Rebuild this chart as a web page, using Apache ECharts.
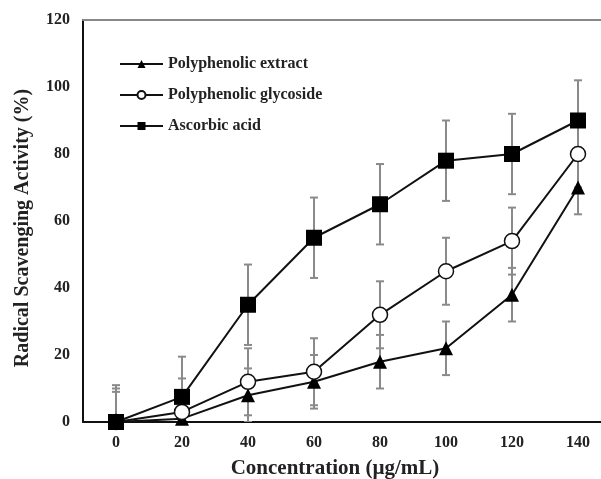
<!DOCTYPE html>
<html>
<head>
<meta charset="utf-8">
<script src="https://cdn.jsdelivr.net/npm/echarts@6/dist/echarts.min.js"></script>
<style>
  html, body { margin: 0; padding: 0; background: #fff; }
  #chart { width: 601px; height: 479px; }
</style>
</head>
<body>
<div id="chart"></div>
<script>
// concentrations (ug/mL)
const concentrations = ["0", "20", "40", "60", "80", "100", "120", "140"];

// mean scavenging activity (%) and error (+/-)
const extractMean = [0, 1, 8, 12, 18, 22, 38, 70];
const extractErr = [9, 8, 8, 8, 8, 8, 8, 8];
const glycosideMean = [0, 3, 12, 15, 32, 45, 54, 80];
const glycosideErr = [10, 10, 10, 10, 10, 10, 10, 10];
const ascorbicMean = [0, 7.5, 35, 55, 65, 78, 80, 90];
const ascorbicErr = [11, 12, 12, 12, 12, 12, 12, 12];

const fontFamily = "'Liberation Serif', 'Times New Roman', serif";
const textColor = "#222";

function errorData(mean, err) {
  return mean.map((m, i) => [i, m - err[i], m + err[i]]);
}

function renderErrorBar(params, api) {
  const x = api.value(0);
  const lo = api.coord([x, api.value(1)]);
  const hi = api.coord([x, api.value(2)]);
  const cap = 4;
  const style = { stroke: "#8a8a8a", lineWidth: 2 };
  return {
    type: "group",
    children: [
      { type: "line", shape: { x1: hi[0], y1: hi[1], x2: lo[0], y2: lo[1] }, style },
      { type: "line", shape: { x1: hi[0] - cap, y1: hi[1], x2: hi[0] + cap, y2: hi[1] }, style },
      { type: "line", shape: { x1: lo[0] - cap, y1: lo[1], x2: lo[0] + cap, y2: lo[1] }, style },
    ],
  };
}

function errorSeries(mean, err) {
  return {
    type: "custom",
    renderItem: renderErrorBar,
    data: errorData(mean, err),
    clip: true,
    silent: true,
    z: 1,
    encode: { x: 0, y: [1, 2] },
  };
}

const chart = echarts.init(document.getElementById("chart"));

chart.setOption({
  animation: false,
  textStyle: { fontFamily },
  legend: {
    orient: "vertical",
    left: 114,
    top: 51,
    itemWidth: 43,
    itemHeight: 10,
    itemGap: 15,
    textStyle: { fontFamily, fontWeight: "bold", fontSize: 16, color: textColor },
    data: ["Polyphenolic extract", "Polyphenolic glycoside", "Ascorbic acid"],
  },
  grid: {
    left: 83,
    width: 528,
    top: 20,
    height: 402,
    outerBoundsMode: "none",
    containLabel: false,
  },
  xAxis: [
    {
      type: "category",
      data: concentrations,
      boundaryGap: true,
      name: "Concentration (\u00b5g/mL)",
      nameLocation: "middle",
      nameGap: 36,
      nameTextStyle: { fontFamily, fontWeight: "bold", fontSize: 21, color: textColor, padding: [0, 24, 0, 0] },
      axisLine: { lineStyle: { color: "#111", width: 2 } },
      axisTick: { inside: true, length: 4, lineStyle: { color: "#111", width: 2 } },
      axisLabel: { fontFamily, fontWeight: "bold", fontSize: 16, color: textColor, margin: 13 },
      splitLine: { show: false },
    },
    {
      type: "category",
      data: concentrations,
      position: "top",
      axisLine: { lineStyle: { color: "#888", width: 2 } },
      axisTick: { show: false },
      axisLabel: { show: false },
    },
  ],
  yAxis: {
    type: "value",
    min: 0,
    max: 120,
    interval: 20,
    name: "Radical Scavenging Activity (%)",
    nameLocation: "middle",
    nameGap: 50,
    nameTextStyle: { fontFamily, fontWeight: "bold", fontSize: 20, color: textColor, padding: [0, 14, 0, 0] },
    axisLine: { show: true, lineStyle: { color: "#111", width: 2 } },
    axisTick: { show: false },
    axisLabel: { fontFamily, fontWeight: "bold", fontSize: 16, color: textColor, margin: 13 },
    splitLine: { show: false },
  },
  series: [
    errorSeries(extractMean, extractErr),
    errorSeries(glycosideMean, glycosideErr),
    errorSeries(ascorbicMean, ascorbicErr),
    {
      name: "Polyphenolic extract",
      type: "line",
      data: extractMean,
      symbol: "triangle",
      symbolSize: 14,
      itemStyle: { color: "#000" },
      lineStyle: { color: "#111", width: 2 },
      z: 3,
    },
    {
      name: "Polyphenolic glycoside",
      type: "line",
      data: glycosideMean,
      symbol: "circle",
      symbolSize: 15,
      itemStyle: { color: "#fff", borderColor: "#111", borderWidth: 1.5 },
      lineStyle: { color: "#111", width: 2 },
      z: 4,
    },
    {
      name: "Ascorbic acid",
      type: "line",
      data: ascorbicMean,
      symbol: "rect",
      symbolSize: 16,
      itemStyle: { color: "#000" },
      lineStyle: { color: "#111", width: 2 },
      z: 5,
    },
  ],
});
</script>
</body>
</html>
